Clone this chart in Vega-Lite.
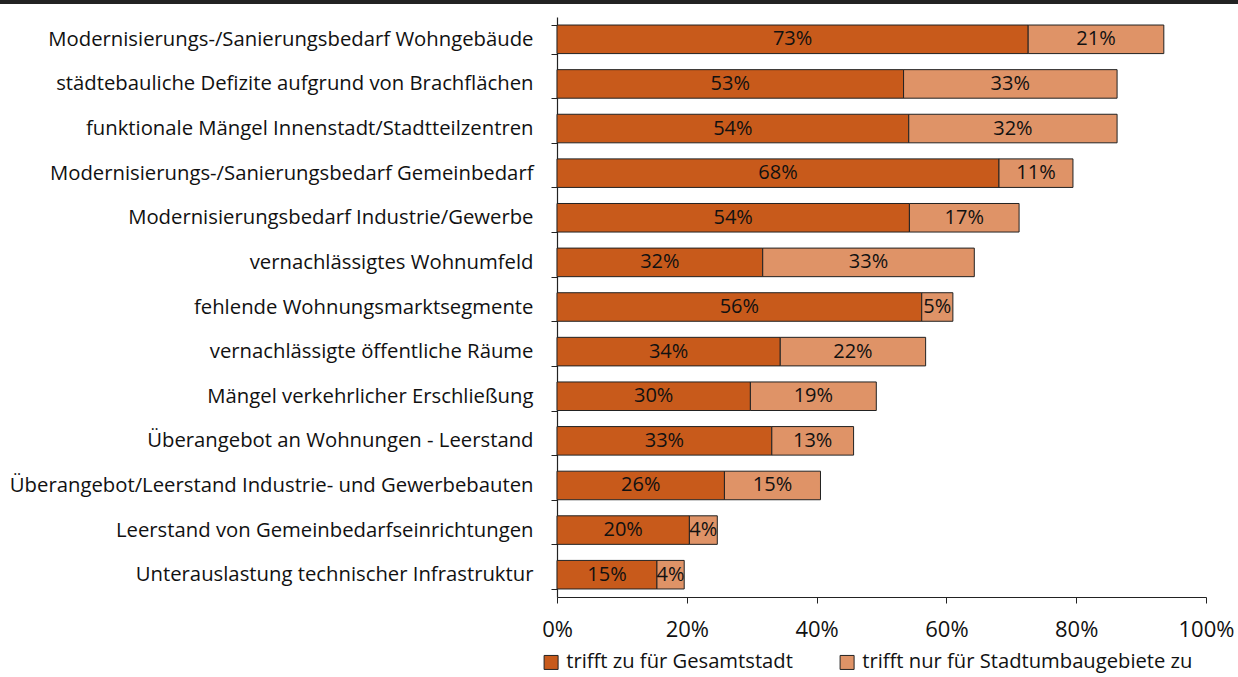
{
  "$schema": "https://vega.github.io/schema/vega-lite/v6.json",
  "width": 649,
  "height": 580,
  "autosize": {"type": "none"},
  "padding": {"left": 557, "top": 17, "right": 32, "bottom": 80},
  "background": "white",
  "config": {"font": "Open Sans", "view": {"stroke": null}},
  "data": {"values": [
    {"category": "Modernisierungs-/Sanierungsbedarf Wohngebäude", "type": "trifft zu für Gesamtstadt", "rank": 1, "value": 0.726},
    {"category": "Modernisierungs-/Sanierungsbedarf Wohngebäude", "type": "trifft nur für Stadtumbaugebiete zu", "rank": 2, "value": 0.209},
    {"category": "städtebauliche Defizite aufgrund von Brachflächen", "type": "trifft zu für Gesamtstadt", "rank": 1, "value": 0.534},
    {"category": "städtebauliche Defizite aufgrund von Brachflächen", "type": "trifft nur für Stadtumbaugebiete zu", "rank": 2, "value": 0.329},
    {"category": "funktionale Mängel Innenstadt/Stadtteilzentren", "type": "trifft zu für Gesamtstadt", "rank": 1, "value": 0.542},
    {"category": "funktionale Mängel Innenstadt/Stadtteilzentren", "type": "trifft nur für Stadtumbaugebiete zu", "rank": 2, "value": 0.321},
    {"category": "Modernisierungs-/Sanierungsbedarf Gemeinbedarf", "type": "trifft zu für Gesamtstadt", "rank": 1, "value": 0.681},
    {"category": "Modernisierungs-/Sanierungsbedarf Gemeinbedarf", "type": "trifft nur für Stadtumbaugebiete zu", "rank": 2, "value": 0.114},
    {"category": "Modernisierungsbedarf Industrie/Gewerbe", "type": "trifft zu für Gesamtstadt", "rank": 1, "value": 0.543},
    {"category": "Modernisierungsbedarf Industrie/Gewerbe", "type": "trifft nur für Stadtumbaugebiete zu", "rank": 2, "value": 0.169},
    {"category": "vernachlässigtes Wohnumfeld", "type": "trifft zu für Gesamtstadt", "rank": 1, "value": 0.317},
    {"category": "vernachlässigtes Wohnumfeld", "type": "trifft nur für Stadtumbaugebiete zu", "rank": 2, "value": 0.326},
    {"category": "fehlende Wohnungsmarktsegmente", "type": "trifft zu für Gesamtstadt", "rank": 1, "value": 0.562},
    {"category": "fehlende Wohnungsmarktsegmente", "type": "trifft nur für Stadtumbaugebiete zu", "rank": 2, "value": 0.048},
    {"category": "vernachlässigte öffentliche Räume", "type": "trifft zu für Gesamtstadt", "rank": 1, "value": 0.344},
    {"category": "vernachlässigte öffentliche Räume", "type": "trifft nur für Stadtumbaugebiete zu", "rank": 2, "value": 0.224},
    {"category": "Mängel verkehrlicher Erschließung", "type": "trifft zu für Gesamtstadt", "rank": 1, "value": 0.298},
    {"category": "Mängel verkehrlicher Erschließung", "type": "trifft nur für Stadtumbaugebiete zu", "rank": 2, "value": 0.194},
    {"category": "Überangebot an Wohnungen - Leerstand", "type": "trifft zu für Gesamtstadt", "rank": 1, "value": 0.331},
    {"category": "Überangebot an Wohnungen - Leerstand", "type": "trifft nur für Stadtumbaugebiete zu", "rank": 2, "value": 0.126},
    {"category": "Überangebot/Leerstand Industrie- und Gewerbebauten", "type": "trifft zu für Gesamtstadt", "rank": 1, "value": 0.258},
    {"category": "Überangebot/Leerstand Industrie- und Gewerbebauten", "type": "trifft nur für Stadtumbaugebiete zu", "rank": 2, "value": 0.148},
    {"category": "Leerstand von Gemeinbedarfseinrichtungen", "type": "trifft zu für Gesamtstadt", "rank": 1, "value": 0.204},
    {"category": "Leerstand von Gemeinbedarfseinrichtungen", "type": "trifft nur für Stadtumbaugebiete zu", "rank": 2, "value": 0.043},
    {"category": "Unterauslastung technischer Infrastruktur", "type": "trifft zu für Gesamtstadt", "rank": 1, "value": 0.154},
    {"category": "Unterauslastung technischer Infrastruktur", "type": "trifft nur für Stadtumbaugebiete zu", "rank": 2, "value": 0.042}
  ]},
  "layer": [
    {
      "layer": [
        {
          "mark": {"type": "bar", "stroke": "#222", "strokeWidth": 1},
          "encoding": {
            "y": {
              "field": "category", "type": "nominal", "sort": null,
              "scale": {"paddingInner": 0.36, "paddingOuter": 0.18},
              "axis": {"title": null, "labelFontSize": 20.3, "labelColor": "#111", "domainColor": "#222", "domainWidth": 1.2, "tickColor": "#222", "tickSize": 6, "labelPadding": 18, "tickBand": "extent", "labelLimit": 600}
            },
            "x": {
              "field": "value", "type": "quantitative", "stack": "zero",
              "scale": {"domain": [0, 1]},
              "axis": {"title": null, "format": "%", "values": [0, 0.2, 0.4, 0.6, 0.8, 1], "grid": false, "labelFlush": false, "labelFontSize": 22, "labelColor": "#111", "domainColor": "#222", "domainWidth": 1.2, "tickColor": "#222", "tickSize": 6, "labelPadding": 16}
            },
            "color": {
              "field": "type", "type": "nominal",
              "scale": {"domain": ["trifft zu für Gesamtstadt", "trifft nur für Stadtumbaugebiete zu"], "range": ["#C85A1B", "#DF9367"]},
              "legend": {"title": null, "orient": "none", "legendX": -16, "legendY": 635, "direction": "horizontal", "symbolType": "square", "symbolSize": 196, "symbolStrokeColor": "#222", "symbolStrokeWidth": 1, "symbolOpacity": 1, "labelFontSize": 20.2, "labelColor": "#111", "labelOffset": 5, "columnPadding": 44, "labelLimit": 500}
            },
            "order": {"field": "rank"}
          }
        },
        {
          "mark": {"type": "text", "fontSize": 20, "color": "#111"},
          "encoding": {
            "y": {"field": "category", "type": "nominal", "sort": null},
            "x": {"field": "value", "type": "quantitative", "stack": "zero", "bandPosition": 0.5},
            "detail": {"field": "type"},
            "order": {"field": "rank"},
            "text": {"field": "value", "type": "quantitative", "format": ".0%"}
          }
        }
      ]
    },
    {
      "mark": {"type": "rule", "strokeWidth": 3, "color": "#222"},
      "encoding": {
        "x": {"datum": -0.86},
        "x2": {"datum": 1.06},
        "y": {"datum": 1.026, "type": "quantitative", "scale": {"domain": [0, 1]}, "axis": null}
      }
    }
  ],
  "resolve": {"scale": {"y": "independent"}}
}
